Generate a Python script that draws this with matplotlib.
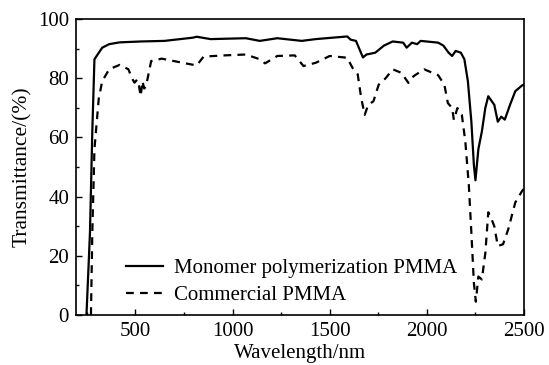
import matplotlib
matplotlib.use("Agg")
import matplotlib.pyplot as plt
from matplotlib.ticker import MultipleLocator

plt.rcParams['font.family'] = ['Liberation Serif', 'DejaVu Serif']

wl_mono = [248, 266, 278, 289, 329, 365, 419, 527, 650, 797, 815, 887, 1068, 1140,
           1230, 1356, 1428, 1590, 1608, 1635, 1671, 1689, 1734, 1779, 1824, 1878,
           1896, 1923, 1950, 1968, 2058, 2085, 2112, 2130, 2148, 2175, 2193, 2211,
           2229, 2242, 2250, 2265, 2283, 2301, 2316, 2347, 2365, 2383, 2401, 2428,
           2455, 2491, 2500]
t_mono = [0, 27.8, 62, 86.4, 90.3, 91.5, 92.1, 92.4, 92.6, 93.7, 94.0, 93.2, 93.5, 92.6,
          93.5, 92.6, 93.2, 94.1, 93.0, 92.6, 87.0, 88.0, 88.6, 91.0, 92.4, 92.0,
          90.3, 92.0, 91.5, 92.6, 92.0, 91.0, 88.6, 87.5, 89.2, 88.6, 86.4, 79.0,
          65.3, 50.6, 45.5, 56.0, 62.0, 70.0, 73.9, 71.0, 65.3, 67.0, 66.0, 71.0,
          75.6, 77.6, 77.8]

wl_comm = [271, 278, 289, 311, 329, 365, 419, 464, 482, 495, 509, 518, 527, 536, 545,
           554, 563, 581, 635, 743, 815, 851, 959, 1068, 1140, 1167, 1230, 1320, 1365,
           1428, 1500, 1590, 1617, 1644, 1662, 1680, 1698, 1725, 1752, 1788, 1824,
           1869, 1905, 1932, 1986, 2058, 2090, 2108, 2130, 2139, 2157, 2180, 2198,
           2216, 2229, 2242, 2252, 2265, 2283, 2301, 2316, 2329, 2347, 2365, 2392,
           2419, 2455, 2491, 2500]
t_comm = [0, 27.8, 56, 73, 79, 83, 84.5, 83, 80, 78.5, 79.5, 77.5, 73.9, 79, 76.5,
          77.3, 80, 85.8, 86.6, 85.2, 84.3, 87.3, 87.7, 88, 86.4, 85, 87.5, 87.7, 84.1,
          85.2, 87.5, 86.9, 83.5, 81.3, 73.3, 67.6, 71, 72.2, 77.8, 80, 83,
          81.8, 78.4, 80.7, 83, 81, 77.8, 71.6, 69.9, 65.9, 69.9, 67.6, 58.5,
          43.8, 27.8, 10.8, 4.5, 13, 12, 21, 34.7, 33, 30, 23.3, 23.9,
          29, 38, 42, 42.6]

labels = ['Monomer polymerization PMMA', 'Commercial PMMA']

fig = plt.figure(figsize=(5.49, 3.65), dpi=100)
ax = fig.add_axes([0.1384, 0.137, 0.8161, 0.811])
ax.plot(wl_mono, t_mono, color='black', lw=1.6, ls='-', label=labels[0])
ax.plot(wl_comm, t_comm, color='black', lw=1.6, ls=(0, (3.5, 2.8)), label=labels[1])

ax.set_xlim(194, 2500)
ax.set_ylim(0, 100)
ax.xaxis.set_major_locator(MultipleLocator(500))
ax.xaxis.set_minor_locator(MultipleLocator(250))
ax.yaxis.set_major_locator(MultipleLocator(20))
ax.yaxis.set_minor_locator(MultipleLocator(10))
ax.tick_params(direction='in', length=4, width=1, labelsize=15, pad=5)
ax.tick_params(which='minor', direction='in', length=2.5, width=1)
for s in ax.spines.values():
    s.set_linewidth(1.2)

ax.set_xlabel('Wavelength/nm', fontsize=15, labelpad=2)
ax.set_ylabel('Transmittance/(%)', fontsize=15.5, labelpad=4)

ax.legend(loc='lower left', bbox_to_anchor=(0.093, 0.005), frameon=False, fontsize=15,
          handlelength=1.8, handletextpad=0.5, labelspacing=0.35, borderaxespad=0)

fig.savefig('out.png', dpi=100)
